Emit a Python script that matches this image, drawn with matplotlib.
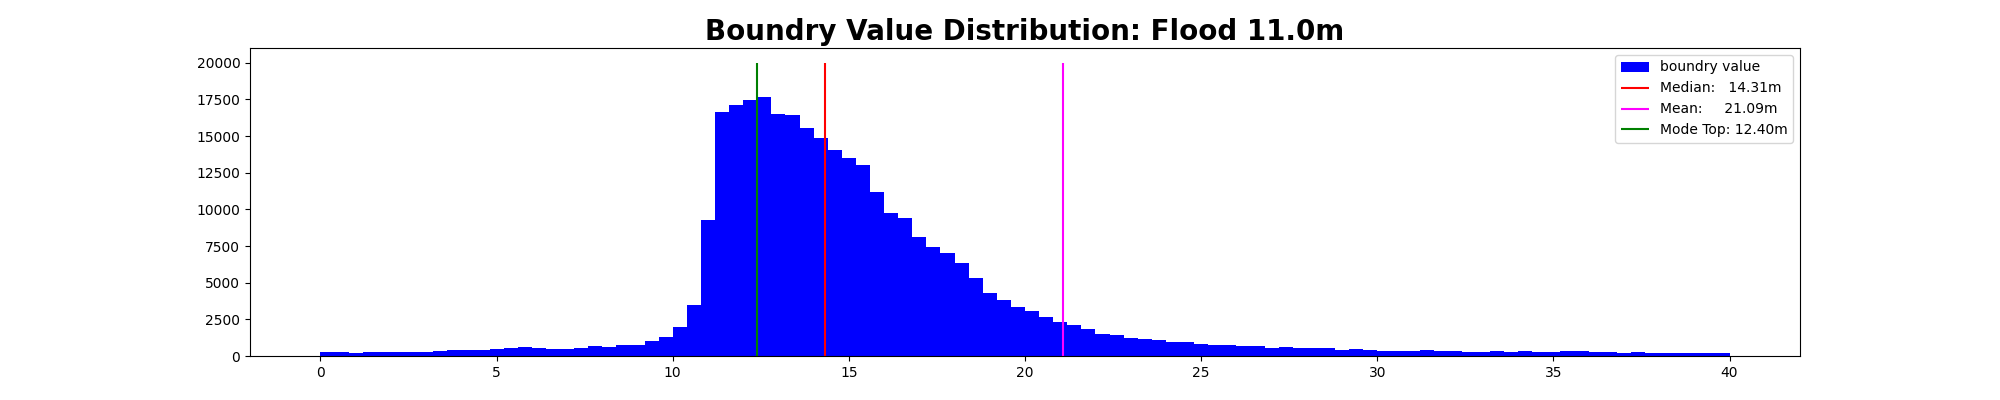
import numpy as np
import matplotlib
matplotlib.use("Agg")
import matplotlib.pyplot as plt

# Histogram bins: 100 bins of width 0.4 from 0 to 40
bin_edges = np.linspace(0, 40, 101)
counts = [
    273, 273, 205, 273, 273, 273, 273, 273, 342, 410,
    410, 410, 479, 547, 616, 547, 479, 479, 547, 684,
    616, 752, 752, 1026, 1300, 1984, 3490, 9300, 16620, 17100,
    17440, 17650, 16480, 16420, 15530, 14840, 14020, 13470, 12990, 11150,
    9780, 9440, 8140, 7460, 7040, 6360, 5330, 4310, 3830, 3350,
    3080, 2670, 2330, 2120, 1850, 1500, 1440, 1230, 1160, 1090,
    960, 960, 820, 750, 750, 684, 684, 547, 616, 547,
    547, 547, 410, 479, 410, 342, 342, 342, 410, 342,
    342, 273, 273, 342, 273, 342, 273, 273, 342, 342,
    273, 273, 205, 273, 205, 205, 205, 205, 205, 205,
]

stat_names = ["Median:", "Mean:", "Mode Top:"]
stat_values = [14.31, 21.09, 12.40]
stat_colors = ["red", "magenta", "green"]
line_top = 20000
title = "Boundry Value Distribution: Flood 11.0m"

fig, ax = plt.subplots(figsize=(20, 4), dpi=100)
centers = (bin_edges[:-1] + bin_edges[1:]) / 2
ax.hist(centers, bins=bin_edges, weights=counts, color="blue", label="boundry value")
for name, val, col in zip(stat_names, stat_values, stat_colors):
    ax.vlines(val, 0, line_top, colors=col, label=f"{name:<10}{val:.2f}m")
ax.set_title(title, fontsize=20, fontweight="bold")
ax.legend(loc="upper right")
fig.savefig("out.png")
